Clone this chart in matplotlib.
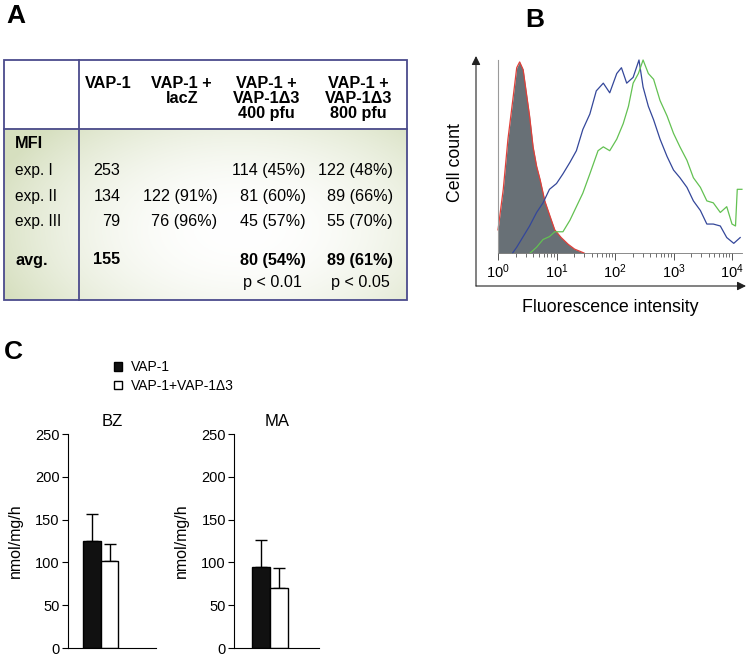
import numpy as np
import matplotlib
matplotlib.use('Agg')
from matplotlib import pyplot as plt
from matplotlib.patches import Rectangle, Patch

plt.rcParams['font.family'] = ['Liberation Sans', 'DejaVu Sans']
plt.rcParams['mathtext.fontset'] = 'custom'
plt.rcParams['mathtext.rm'] = 'Liberation Sans'
plt.rcParams['mathtext.it'] = 'Liberation Sans:italic'

# ---- panel A : table values ----
col_headers = ['VAP-1', 'VAP-1 +\nlacZ', 'VAP-1 +\nVAP-1\u03943\n400 pfu', 'VAP-1 +\nVAP-1\u03943\n800 pfu']
row_labels = ['exp. I', 'exp. II', 'exp. III']
mfi_vap1 = ['253', '134', '79']
mfi_lacz = ['', '122 (91%)', '76 (96%)']
mfi_400 = ['114 (45%)', '81 (60%)', '45 (57%)']
mfi_800 = ['122 (48%)', '89 (66%)', '55 (70%)']
avg_row = ['155', '', '80 (54%)', '89 (61%)']
p_row = ['', '', 'p < 0.01', 'p < 0.05']

# ---- panel B : histograms (x in log10 units, height relative to max) ----
ctrl_log = [0.0, 0.09, 0.17, 0.26, 0.32, 0.37, 0.43, 0.48, 0.54, 0.60, 0.66, 0.72, 0.80, 0.89, 0.97, 1.08, 1.20, 1.31, 1.43, 1.47]
ctrl_h = [0.12, 0.33, 0.59, 0.81, 0.96, 0.99, 0.95, 0.84, 0.71, 0.55, 0.45, 0.38, 0.27, 0.19, 0.12, 0.08, 0.045, 0.02, 0.005, 0.0]

blue_log = [0.25, 0.32, 0.43, 0.54, 0.66, 0.77, 0.88, 1.0, 1.11, 1.23, 1.34, 1.45, 1.57, 1.68, 1.80, 1.91,
            2.03, 2.11, 2.20, 2.31, 2.41, 2.48, 2.57, 2.66, 2.77, 2.89, 3.0, 3.11, 3.23, 3.34, 3.46,
            3.57, 3.68, 3.80, 3.91, 4.03, 4.14]
blue_h = [0.0, 0.03, 0.085, 0.14, 0.21, 0.26, 0.33, 0.36, 0.41, 0.47, 0.53, 0.64, 0.72, 0.84, 0.88, 0.83,
          0.93, 0.96, 0.88, 0.91, 1.0, 0.86, 0.76, 0.69, 0.59, 0.50, 0.43, 0.39, 0.34, 0.27, 0.22,
          0.15, 0.15, 0.14, 0.08, 0.05, 0.08]

green_log = [0.55, 0.66, 0.77, 0.88, 0.97, 1.11, 1.23, 1.34, 1.45, 1.57, 1.71, 1.80, 1.91, 2.03, 2.14,
             2.23, 2.31, 2.40, 2.48, 2.57, 2.66, 2.77, 2.89, 3.0, 3.11, 3.23, 3.34, 3.46, 3.57, 3.68,
             3.80, 3.91, 4.0, 4.06, 4.09, 4.17]
green_h = [0.0, 0.03, 0.07, 0.085, 0.11, 0.11, 0.17, 0.24, 0.31, 0.41, 0.53, 0.55, 0.53, 0.59, 0.67,
           0.76, 0.88, 0.93, 1.0, 0.93, 0.90, 0.79, 0.71, 0.62, 0.55, 0.48, 0.39, 0.34, 0.27, 0.26,
           0.21, 0.24, 0.15, 0.14, 0.33, 0.33]

# ---- panel C : enzyme activity ----
groups = ['VAP-1', 'VAP-1+VAP-1\u03943']
bz_means = [125.5, 102]
bz_err = [31.5, 20]
ma_means = [95, 70]
ma_err = [31, 23]

W, H = 746, 658
fig = plt.figure(figsize=(W / 100, H / 100), dpi=100)

def px_axes(left, top, right, bottom):
    return fig.add_axes([left / W, 1 - bottom / H, (right - left) / W, (bottom - top) / H])

# overlay in pixel coordinates for table, arrows, panel letters
ov = fig.add_axes([0, 0, 1, 1])
ov.set_xlim(0, W)
ov.set_ylim(H, 0)
ov.axis('off')

# panel letters
ov.text(6, 23, 'A', fontsize=19, fontweight='bold', va='baseline')
ov.text(525, 27, 'B', fontsize=19, fontweight='bold', va='baseline')
ov.text(4, 359, 'C', fontsize=19, fontweight='bold', va='baseline')

# table body gradient
tx0, tx1, ty0, ty1, ty_div, tx_div = 4, 407, 59.5, 300, 128.5, 79
gx, gy = np.meshgrid(np.linspace(tx0, tx1, 300), np.linspace(ty_div, ty1, 150))
t = np.clip(np.sqrt(((gx - 240) / 260) ** 2 + ((gy - 230) / 150) ** 2), 0, 1) ** 2.0
edge = np.array([0.84, 0.875, 0.75])
img = (1 - t[..., None]) * np.ones(3) + t[..., None] * edge
ov.imshow(img, extent=(tx0, tx1, ty1, ty_div), aspect='auto', zorder=0, interpolation='bilinear')

bcol = '#4b4b8c'
ov.add_patch(Rectangle((tx0, ty0), tx1 - tx0, ty1 - ty0, fill=False, ec=bcol, lw=1.3, zorder=2))
ov.plot([tx0, tx1], [ty_div, ty_div], color=bcol, lw=1.3, zorder=2)
ov.plot([tx_div, tx_div], [ty0, ty1], color=bcol, lw=1.3, zorder=2)

head_x = [108, 181.7, 266.7, 358.3]
for hx, h in zip(head_x, col_headers):
    ov.text(hx, 76, h, fontsize=11.7, fontweight='bold', ha='center', va='top', linespacing=1.0, zorder=3)

row_y = [170.7, 196.7, 221.7]
val_right = [120.5, 217.3, 305.5, 393]
ov.text(15, 143.3, 'MFI', fontsize=11.7, fontweight='bold', va='center', zorder=3)
for i, lab in enumerate(row_labels):
    ov.text(15, row_y[i], lab, fontsize=11.2, va='center', zorder=3)
    for cx, col in zip(val_right, [mfi_vap1, mfi_lacz, mfi_400, mfi_800]):
        ov.text(cx, row_y[i], col[i], fontsize=11.6, ha='right', va='center', zorder=3)
ov.text(15, 260, 'avg.', fontsize=11.7, fontweight='bold', va='center', zorder=3)
for cx, v in zip(val_right, avg_row):
    ov.text(cx, 260, v, fontsize=11.7, fontweight='bold', ha='right', va='center', zorder=3)
for cx, v in zip([120.5, 217.3, 302, 390], p_row):
    ov.text(cx, 283, v, fontsize=11.6, ha='right', va='center', zorder=3)

# panel B outer arrows and labels
arr = dict(arrowstyle='-|>', color='#222222', lw=0.8, mutation_scale=13, shrinkA=0, shrinkB=0)
ov.annotate('', xy=(476, 56), xytext=(476, 286), arrowprops=arr)
ov.annotate('', xy=(746, 286), xytext=(476, 286), arrowprops=arr)
ov.text(455, 163, 'Cell count', fontsize=12.8, rotation=90, ha='center', va='center')
ov.text(610, 307, 'Fluorescence intensity', fontsize=12.8, ha='center', va='center')

# ---- panel B histogram ----
axb = px_axes(498, 60, 742, 253)
xmax = 10 ** (244 / 58.5)
cx = 10 ** np.array(ctrl_log)
axb.fill_between(cx, ctrl_h, color='#687076', lw=0)
axb.plot(cx, ctrl_h, color='#e0403a', lw=0.9)
axb.plot(10 ** np.array(blue_log), blue_h, color='#34479a', lw=0.9)
axb.plot(10 ** np.array(green_log), green_h, color='#63c152', lw=0.9)
axb.set_xscale('log')
axb.set_xlim(1, xmax)
axb.set_ylim(0, 1.0)
axb.set_xticks([1, 10, 100, 1000, 10000])
axb.set_xticklabels(['$10^0$', '$10^1$', '$10^2$', '$10^3$', '$10^4$'], fontsize=10.5)
axb.set_yticks([])
for s in ['top', 'right']:
    axb.spines[s].set_visible(False)
axb.spines['left'].set_color('#9a9a9a')
axb.spines['left'].set_linewidth(0.8)
axb.spines['bottom'].set_color('#777777')
axb.spines['bottom'].set_linewidth(0.6)
axb.tick_params(axis='x', which='major', length=5, width=0.7, color='#555555', pad=2)
axb.tick_params(axis='x', which='minor', length=3, width=0.6, color='#555555')
axb.patch.set_alpha(0)
for ln in axb.lines:
    ln.set_clip_on(False)

# ---- panel C bars ----
def bar_panel(ax, means, errs, title, xlim):
    ax.bar([-0.5, 0.5], means, width=1.0, color=['#111111', 'white'], edgecolor='black', lw=1.0, zorder=2)
    ax.errorbar([-0.5, 0.5], means, yerr=[[0, 0], errs], fmt='none', ecolor='black',
                elinewidth=1.0, capsize=4, capthick=1.0, zorder=1)
    ax.set_xlim(*xlim)
    ax.set_ylim(0, 250)
    ax.set_yticks([0, 50, 100, 150, 200, 250])
    ax.set_xticks([])
    for s in ['top', 'right']:
        ax.spines[s].set_visible(False)
    ax.tick_params(axis='y', length=4, labelsize=10.5, pad=2)
    ax.set_ylabel('nmol/mg/h', fontsize=11.5, labelpad=9)
    ax.set_title(title, fontsize=12, pad=6)
    ax.patch.set_alpha(0)

ax_bz = px_axes(68, 434, 156, 648)
bar_panel(ax_bz, bz_means, bz_err, 'BZ', (-1.86, 3.14))
ax_ma = px_axes(234.3, 434, 319, 648)
bar_panel(ax_ma, ma_means, ma_err, 'MA', (-2.0, 2.76))

handles = [Patch(facecolor='#111111', edgecolor='black'), Patch(facecolor='white', edgecolor='black')]
fig.legend(handles, groups, loc='upper left', bbox_to_anchor=(114 / W, 1 - 360 / H), frameon=False,
           fontsize=10, handlelength=0.6, handleheight=0.6, handletextpad=0.6, labelspacing=0.35,
           borderpad=0, borderaxespad=0)

plt.savefig('out.png', dpi=100)
